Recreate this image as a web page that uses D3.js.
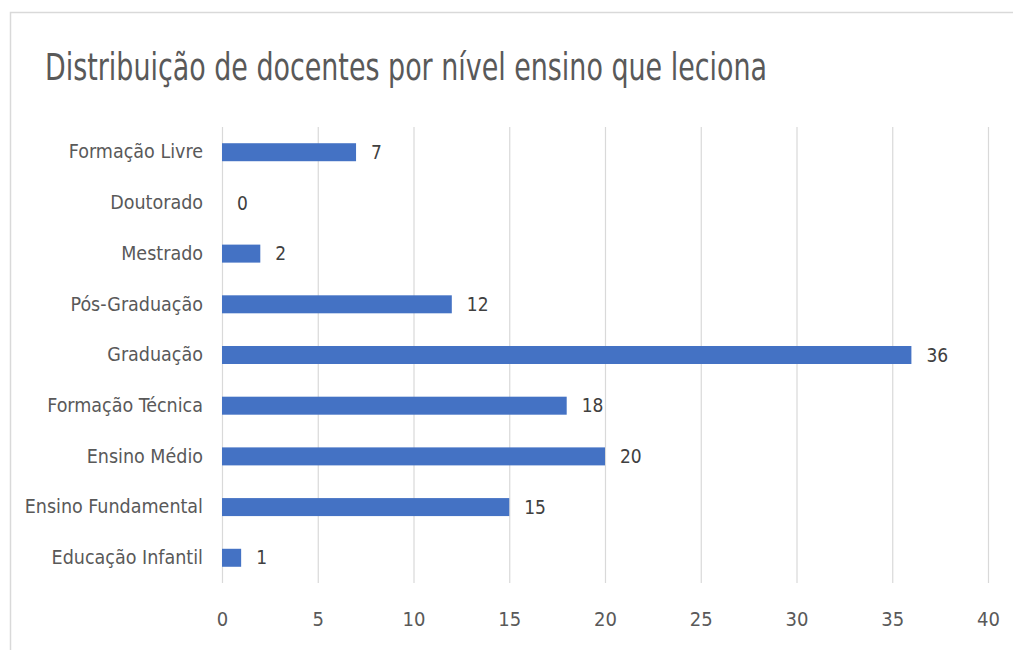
<!DOCTYPE html>
<html>
<head>
<meta charset="utf-8">
<script src="https://cdn.jsdelivr.net/npm/d3@7"></script>
<style>
  body { margin: 0; background: #fff; }
  text { font-family: "Liberation Sans Narrow", "DejaVu Sans Condensed", "Open Sans", sans-serif; }
</style>
</head>
<body>
<div id="chart"></div>
<script>
// Data
const categories = ['Formação Livre', 'Doutorado', 'Mestrado', 'Pós-Graduação', 'Graduação',
  'Formação Técnica', 'Ensino Médio', 'Ensino Fundamental', 'Educação Infantil'];
const values = [7, 0, 2, 12, 36, 18, 20, 15, 1];
const xTicks = [0, 5, 10, 15, 20, 25, 30, 35, 40];
const title = 'Distribuição de docentes por nível ensino que leciona';

const width = 1013;
const height = 650;
const margin = { top: 127, right: 25, bottom: 67, left: 222 };

const data = categories.map((c, i) => ({ cat: c, val: values[i] }));

const svg = d3.select('#chart')
  .append('svg')
  .attr('width', width)
  .attr('height', height);

// frame of the chart area
svg.append('path')
  .attr('d', `M10.5,${height} V12.5 H${width}`)
  .attr('fill', 'none')
  .attr('stroke', '#d9d9d9')
  .attr('stroke-width', 1.5);

svg.append('text')
  .attr('x', 45)
  .attr('y', 80)
  .attr('font-size', 37)
  .attr('fill', '#595959')
  .attr('textLength', 722)
  .attr('lengthAdjust', 'spacingAndGlyphs')
  .text(title);

const x = d3.scaleLinear()
  .domain([0, 40])
  .range([margin.left, 988]);

const y = d3.scaleBand()
  .domain(categories)
  .range([margin.top, height - margin.bottom])
  .paddingInner(0.645)
  .paddingOuter(0.32);

// vertical gridlines
svg.append('g')
  .selectAll('line')
  .data(xTicks)
  .enter()
  .append('line')
  .attr('x1', d => x(d) + 0.5)
  .attr('x2', d => x(d) + 0.5)
  .attr('y1', margin.top)
  .attr('y2', height - margin.bottom)
  .attr('stroke', '#d9d9d9')
  .attr('stroke-width', 1.2);

// x axis labels
const xAxis = svg.append('g')
  .attr('transform', `translate(0, ${height - margin.bottom})`)
  .call(d3.axisBottom(x).tickValues(xTicks).tickSize(0).tickPadding(29));
xAxis.select('.domain').remove();
xAxis.selectAll('text')
  .attr('font-size', 20)
  .attr('fill', '#595959')
  .style('font-family', '"Liberation Sans Narrow", "DejaVu Sans Condensed", sans-serif');

// y axis labels
const yAxis = svg.append('g')
  .attr('transform', `translate(${margin.left}, 0)`)
  .call(d3.axisLeft(y).tickSize(0).tickPadding(19));
yAxis.select('.domain').remove();
yAxis.selectAll('text')
  .attr('font-size', 19.5)
  .attr('fill', '#595959')
  .style('font-family', '"Liberation Sans Narrow", "DejaVu Sans Condensed", sans-serif');

// bars
svg.append('g')
  .selectAll('rect')
  .data(data)
  .enter()
  .append('rect')
  .attr('x', x(0))
  .attr('y', d => y(d.cat))
  .attr('width', d => x(d.val) - x(0))
  .attr('height', y.bandwidth())
  .attr('fill', '#4472c4');

// value labels
svg.append('g')
  .selectAll('text')
  .data(data)
  .enter()
  .append('text')
  .attr('x', d => x(d.val) + 15)
  .attr('y', d => y(d.cat) + y.bandwidth() / 2)
  .attr('dy', '0.35em')
  .attr('font-size', 19)
  .attr('fill', '#404040')
  .text(d => d.val);
</script>
</body>
</html>
